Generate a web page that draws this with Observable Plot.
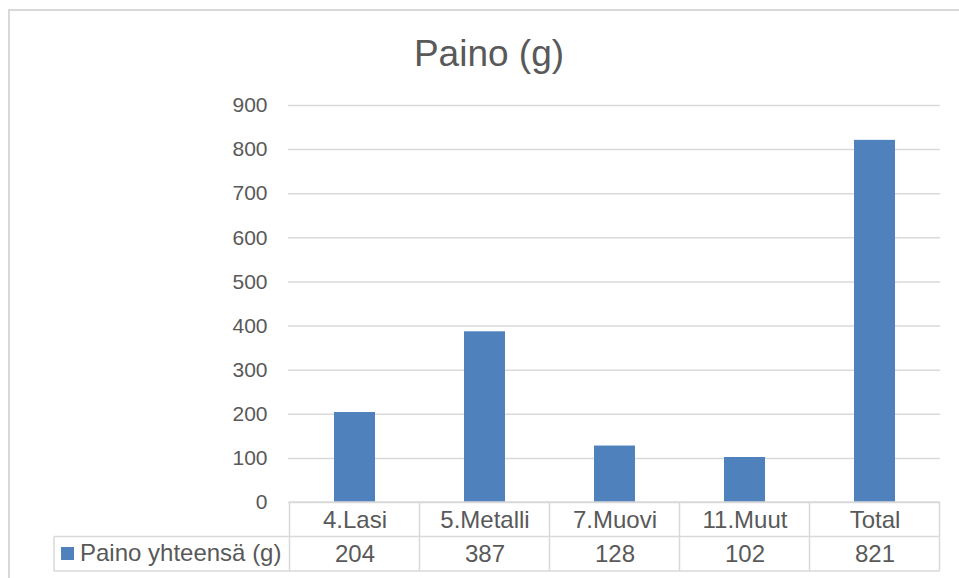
<!DOCTYPE html>
<html>
<head>
<meta charset="utf-8">
<script src="https://cdn.jsdelivr.net/npm/d3@7"></script>
<script src="https://cdn.jsdelivr.net/npm/@observablehq/plot@0.6"></script>
<style>
  html, body { margin: 0; padding: 0; background: #fff; overflow: hidden; }
  #wrap { position: relative; width: 959px; height: 578px; font-family: "Liberation Sans", Arial, sans-serif; }
  #frame { position: absolute; left: 8px; top: 9px; width: 980px; height: 600px; border: 2px solid #d9d9d9; box-sizing: border-box; }
  #title { position: absolute; left: 0; width: 978px; top: 31px; text-align: center; font-size: 37px; color: #595959; line-height: 46px; }
  #chart { position: absolute; left: 0; top: 0; }
</style>
</head>
<body>
<div id="wrap">
  <div id="frame"></div>
  <div id="title"></div>
  <div id="chart"></div>
</div>
<script>
// Weight per waste fraction, grams
const titleText = "Paino (g)";
const seriesName = "Paino yhteensä (g)";
const categories = ["4.Lasi", "5.Metalli", "7.Muovi", "11.Muut", "Total"];
const values = [204, 387, 128, 102, 821];
const yTicks = [0, 100, 200, 300, 400, 500, 600, 700, 800, 900];

const barColor = "#4f81bd";
const textColor = "#595959";
const lineColor = "#d9d9d9";
const font = "'Liberation Sans', Arial, sans-serif";
const tableFontSize = 24;

const rows = categories.map((category, i) => ({category, value: values[i]}));

document.getElementById("title").textContent = titleText;

const chart = Plot.plot({
  width: 959,
  height: 578,
  marginTop: 105,
  marginBottom: 76,
  marginLeft: 288,
  marginRight: 19,
  style: {fontFamily: font, fontSize: "21px", color: textColor, background: "transparent", overflow: "visible"},
  x: {domain: categories, paddingInner: 0.686, paddingOuter: 0.343, axis: null},
  y: {domain: [0, 900], axis: null},
  marks: [
    Plot.gridY(yTicks, {stroke: lineColor, strokeOpacity: 1, strokeWidth: 1.5}),
    Plot.axisY(yTicks, {tickSize: 0, tickPadding: 21, fontSize: 21, fill: textColor, label: null, tickFormat: d => String(d)}),
    Plot.barY(rows, {x: "category", y: "value", fill: barColor}),
    // data table: category header row and value row under the plot area
    Plot.text(rows, {x: "category", text: "category", frameAnchor: "bottom", lineAnchor: "middle", dy: 17.5, fontSize: tableFontSize, fill: textColor}),
    Plot.text(rows, {x: "category", text: d => String(d.value), frameAnchor: "bottom", lineAnchor: "middle", dy: 52, fontSize: tableFontSize, fill: textColor})
  ]
});
document.getElementById("chart").appendChild(chart);

// Table grid and legend key, positioned from the x band scale
const xs = chart.scale("x");
const ys = chart.scale("y");
const step = xs.step ?? (xs.bandwidth / (1 - 0.686));
const centers = categories.map(c => xs.apply(c) + xs.bandwidth / 2);
const left = centers[0] - step / 2;
const right = centers[centers.length - 1] + step / 2;
const top0 = ys.apply(0);
const rowH = 34.5;
const mid = top0 + rowH;
const bottom = top0 + 2 * rowH;
const legendLeft = 54;

const svg = d3.select(chart);
const g = svg.append("g").attr("stroke", lineColor).attr("stroke-width", 1.5).attr("fill", "none");
g.append("line").attr("x1", left).attr("x2", right).attr("y1", top0).attr("y2", top0);
g.append("line").attr("x1", legendLeft).attr("x2", right).attr("y1", mid).attr("y2", mid);
g.append("line").attr("x1", legendLeft).attr("x2", right).attr("y1", bottom).attr("y2", bottom);
g.append("line").attr("x1", legendLeft).attr("x2", legendLeft).attr("y1", mid).attr("y2", bottom);
const edges = [left, ...centers.map(c => c + step / 2)];
edges.forEach(x => g.append("line").attr("x1", x).attr("x2", x).attr("y1", top0).attr("y2", bottom));

svg.append("rect")
  .attr("x", legendLeft + 7).attr("y", mid + 10.5)
  .attr("width", 13).attr("height", 13)
  .attr("fill", barColor);
svg.append("text")
  .attr("x", legendLeft + 26).attr("y", mid + rowH / 2)
  .attr("dy", "0.32em")
  .attr("text-anchor", "start")
  .attr("font-size", tableFontSize)
  .attr("fill", textColor)
  .attr("font-family", font)
  .text(seriesName);
</script>
</body>
</html>
